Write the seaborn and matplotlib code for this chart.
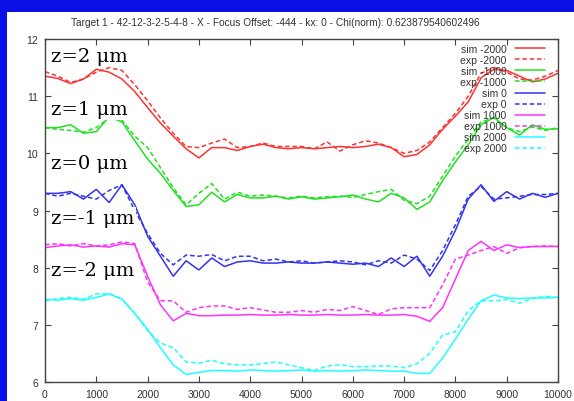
import numpy as np
import pandas as pd
import matplotlib
matplotlib.use("Agg")
import matplotlib.pyplot as plt
from matplotlib.patches import Rectangle
import seaborn as sns

# x positions (nm) shared by every profile
x_pos = list(range(0, 10001, 250))

sim_m2000 = [11.35, 11.31, 11.22, 11.30, 11.47, 11.42, 11.30, 11.08, 10.80, 10.53, 10.30,
             10.08, 9.92, 10.10, 10.10, 10.05, 10.12, 10.16, 10.10, 10.08, 10.10, 10.08,
             10.10, 10.12, 10.10, 10.12, 10.16, 10.10, 9.94, 9.98, 10.15, 10.42, 10.65,
             10.90, 11.32, 11.47, 11.45, 11.35, 11.25, 11.30, 11.40]
exp_m2000 = [11.43, 11.35, 11.24, 11.30, 11.42, 11.50, 11.45, 11.20, 10.92, 10.62, 10.35,
             10.12, 10.10, 10.18, 10.25, 10.10, 10.12, 10.18, 10.12, 10.12, 10.12, 10.08,
             10.20, 10.04, 10.15, 10.22, 10.18, 10.10, 10.00, 10.05, 10.20, 10.45, 10.70,
             11.00, 11.40, 11.50, 11.42, 11.30, 11.28, 11.35, 11.45]
sim_m1000 = [10.45, 10.45, 10.50, 10.35, 10.38, 10.64, 10.55, 10.22, 9.90, 9.65, 9.35,
             9.07, 9.10, 9.32, 9.15, 9.28, 9.22, 9.22, 9.25, 9.20, 9.24, 9.20,
             9.22, 9.24, 9.27, 9.20, 9.15, 9.30, 9.22, 9.02, 9.15, 9.52, 9.85,
             10.15, 10.50, 10.63, 10.45, 10.32, 10.50, 10.42, 10.43]
exp_m1000 = [10.45, 10.42, 10.40, 10.37, 10.45, 10.62, 10.58, 10.30, 10.10, 9.75, 9.40,
             9.10, 9.30, 9.47, 9.20, 9.32, 9.25, 9.27, 9.25, 9.22, 9.25, 9.22,
             9.24, 9.25, 9.23, 9.28, 9.33, 9.37, 9.18, 9.12, 9.25, 9.60, 9.95,
             10.25, 10.55, 10.62, 10.45, 10.38, 10.46, 10.40, 10.45]
sim_0 = [9.30, 9.30, 9.33, 9.20, 9.37, 9.14, 9.45, 9.10, 8.55, 8.20, 7.85,
         8.12, 7.96, 8.17, 8.02, 8.10, 8.12, 8.08, 8.08, 8.10, 8.08, 8.08,
         8.10, 8.08, 8.06, 8.08, 8.02, 8.17, 8.02, 8.20, 7.85, 8.20, 8.65,
         9.20, 9.45, 9.16, 9.33, 9.20, 9.30, 9.23, 9.30]
exp_0 = [9.30, 9.25, 9.30, 9.25, 9.20, 9.35, 9.45, 9.00, 8.60, 8.25, 8.05,
         8.22, 8.20, 8.23, 8.12, 8.20, 8.20, 8.12, 8.15, 8.10, 8.12, 8.08,
         8.10, 8.12, 8.10, 8.05, 8.12, 8.08, 8.22, 8.15, 7.95, 8.30, 8.75,
         9.25, 9.42, 9.20, 9.22, 9.25, 9.28, 9.28, 9.30]
sim_1000 = [8.35, 8.38, 8.40, 8.36, 8.38, 8.36, 8.42, 8.40, 7.85, 7.35, 7.07,
            7.20, 7.16, 7.16, 7.17, 7.17, 7.18, 7.17, 7.17, 7.18, 7.17, 7.17,
            7.18, 7.17, 7.17, 7.18, 7.17, 7.17, 7.18, 7.15, 7.06, 7.30, 7.80,
            8.30, 8.46, 8.30, 8.40, 8.35, 8.37, 8.37, 8.37]
exp_1000 = [8.40, 8.42, 8.38, 8.42, 8.38, 8.40, 8.45, 8.42, 7.75, 7.42, 7.42,
            7.22, 7.30, 7.33, 7.33, 7.27, 7.30, 7.26, 7.22, 7.22, 7.25, 7.22,
            7.27, 7.25, 7.32, 7.25, 7.18, 7.28, 7.30, 7.30, 7.30, 7.70, 8.15,
            8.22, 8.30, 8.37, 8.25, 8.35, 8.37, 8.38, 8.37]
sim_2000 = [7.45, 7.43, 7.46, 7.43, 7.48, 7.54, 7.45, 7.20, 6.92, 6.60, 6.30,
            6.13, 6.17, 6.20, 6.20, 6.19, 6.21, 6.20, 6.19, 6.20, 6.21, 6.19,
            6.20, 6.19, 6.20, 6.21, 6.20, 6.19, 6.19, 6.15, 6.15, 6.42, 6.75,
            7.10, 7.42, 7.52, 7.47, 7.46, 7.47, 7.47, 7.48]
exp_2000 = [7.42, 7.46, 7.48, 7.45, 7.54, 7.55, 7.45, 7.20, 6.90, 6.68, 6.60,
            6.35, 6.33, 6.38, 6.32, 6.30, 6.30, 6.32, 6.35, 6.30, 6.25, 6.20,
            6.28, 6.30, 6.27, 6.27, 6.28, 6.28, 6.25, 6.32, 6.50, 6.82, 6.88,
            7.25, 7.42, 7.42, 7.44, 7.38, 7.46, 7.50, 7.48]

series_labels = ["sim -2000", "exp -2000", "sim -1000", "exp -1000", "sim 0", "exp 0",
                 "sim 1000", "exp 1000", "sim 2000", "exp 2000"]
series_values = [sim_m2000, exp_m2000, sim_m1000, exp_m1000, sim_0, exp_0,
                 sim_1000, exp_1000, sim_2000, exp_2000]
series_colors = ["#ff3333", "#ff3333", "#22e022", "#22e022", "#3333ee", "#3333ee",
                 "#ff33ff", "#ff33ff", "#22ffff", "#22ffff"]

z_labels = ["z=2 \u03bcm", "z=1 \u03bcm", "z=0 \u03bcm", "z=-1 \u03bcm", "z=-2 \u03bcm"]
z_label_y = [11.61, 10.68, 9.74, 8.79, 7.88]

title = "Target 1 - 42-12-3-2-5-4-8 - X - Focus Offset: -444 - kx: 0 - Chi(norm): 0.623879540602496"

sns.set_style("ticks")
plt.rcParams["font.family"] = ["Liberation Sans", "DejaVu Sans"]

fig = plt.figure(figsize=(5.74, 4.02), dpi=100, facecolor="#0a10e6")
# white slide panel
fig.add_artist(Rectangle((7 / 574, 0), 1, 1 - 13 / 402, transform=fig.transFigure,
                         facecolor="white", edgecolor="none", zorder=-1))

ax = fig.add_axes([45 / 574, 19 / 402, 513 / 574, 343 / 402])
ax.set_facecolor("white")

for label, vals, col in zip(series_labels, series_values, series_colors):
    df = pd.DataFrame({"x": x_pos, "y": vals})
    ls = "-" if label.startswith("sim") else (0, (3, 1.8))
    sns.lineplot(data=df, x="x", y="y", ax=ax, color=col, linewidth=1.1,
                 linestyle=ls, label=label)

for txt, yy in zip(z_labels, z_label_y):
    ax.text(120, yy, txt, fontsize=14, family="DejaVu Serif", color="black",
            va="baseline", ha="left", zorder=5,
            bbox=dict(facecolor="white", edgecolor="none", pad=1))

ax.set_xlim(0, 10000)
ax.set_ylim(6, 12)
ax.set_xticks(np.arange(0, 10001, 1000))
ax.set_yticks(np.arange(6, 13, 1))
ax.set_xlabel("")
ax.set_ylabel("")
ax.tick_params(direction="in", length=4, width=0.8, top=True, right=True,
               labelsize=7.5, labelcolor="#333333", color="#444444", pad=5)
for sp in ax.spines.values():
    sp.set_color("#444444")
    sp.set_linewidth(1.0)

leg = ax.legend(loc="upper right", bbox_to_anchor=(1 - 13 / 513, 1 - 5 / 343),
                frameon=False, fontsize=7.5, markerfirst=False, handlelength=2.9,
                handletextpad=0.8, labelspacing=0.1, borderpad=0, borderaxespad=0)
for t in leg.get_texts():
    t.set_color("#333333")
for col in leg._legend_handle_box.get_children():
    col.align = "right"

fig.text(275 / 574, 1 - 23 / 402, title, ha="center", va="center",
         fontsize=7.3, color="#333333")

fig.savefig("out.png", dpi=100, facecolor=fig.get_facecolor())
